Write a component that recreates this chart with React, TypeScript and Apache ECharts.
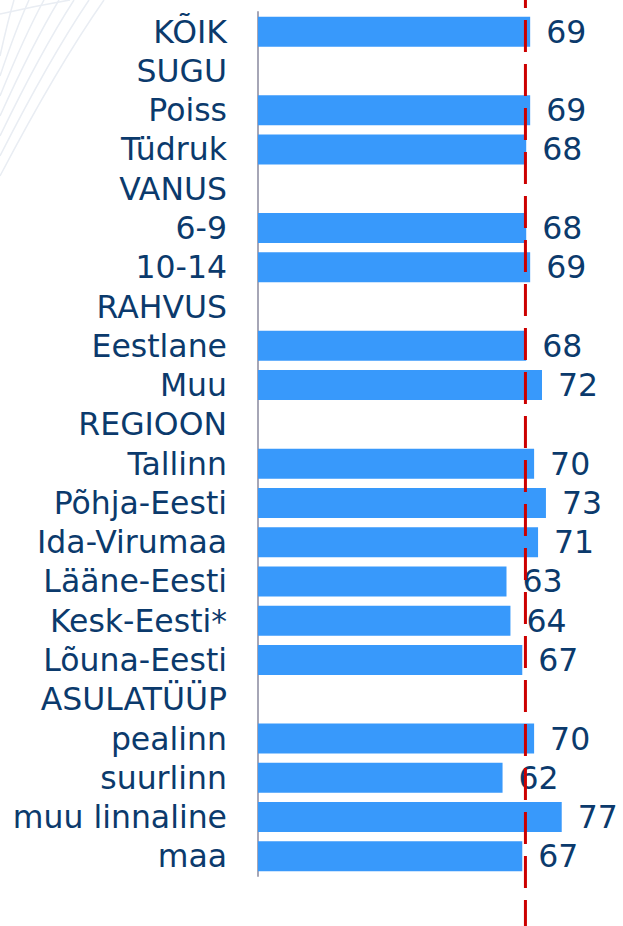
import React, { useEffect, useRef } from "react";
import * as echarts from "echarts";

const categories = [
  "KÕIK", "SUGU", "Poiss", "Tüdruk", "VANUS", "6-9", "10-14", "RAHVUS",
  "Eestlane", "Muu", "REGIOON", "Tallinn", "Põhja-Eesti", "Ida-Virumaa",
  "Lääne-Eesti", "Kesk-Eesti*", "Lõuna-Eesti", "ASULATÜÜP", "pealinn",
  "suurlinn", "muu linnaline", "maa",
];
const values: (number | null)[] = [
  69, null, 69, 68, null, 68, 69, null, 68, 72, null, 70, 73, 71, 63, 64, 67,
  null, 70, 62, 77, 67,
];
const referenceValue = 67.8;

const TEXT = "#0b3a6c";
const FONT = "DejaVu Sans, Verdana, sans-serif";

export default function App() {
  const ref = useRef<HTMLDivElement>(null);
  useEffect(() => {
    document.body.style.margin = "0";
    const chart = echarts.init(ref.current!, null, { renderer: "svg" });
    const deco: any[] = [];
    for (let i = 0; i < 7; i++) {
      const x0 = 104 - i * 15;
      const y1 = 176 - i * 20;
      deco.push({
        type: "bezierCurve",
        silent: true,
        z: -10,
        shape: {
          x1: x0, y1: 0,
          x2: 0, y2: y1,
          cpx1: x0 * 0.55, cpy1: y1 * 0.38,
        },
        style: { stroke: "#e9edf3", lineWidth: 1.5, fill: null },
      });
    }
    deco.push({
      type: "bezierCurve",
      silent: true,
      z: -10,
      shape: { x1: 0, y1: 14, x2: 70, y2: 0, cpx1: 35, cpy1: 6 },
      style: { stroke: "#e9edf3", lineWidth: 1.5, fill: null },
    });
    chart.setOption({
      animation: false,
      backgroundColor: "#ffffff",
      graphic: deco,
      grid: [
        { left: 258, top: 12, width: 355, height: 864 },
        { left: 258, top: 0, width: 355, height: 926 },
      ],
      xAxis: [
        { type: "value", gridIndex: 0, min: 0, max: 90, show: false },
        { type: "value", gridIndex: 1, min: 0, max: 90, show: false },
      ],
      yAxis: [
        {
          type: "category",
          gridIndex: 0,
          data: categories,
          inverse: true,
          axisLine: { show: true, lineStyle: { color: "#a6a6b6", width: 2 } },
          axisTick: { show: false },
          splitLine: { show: false },
          axisLabel: {
            margin: 31,
            color: TEXT,
            fontSize: 31.5,
            fontFamily: FONT,
            interval: 0,
          },
        },
        { type: "value", gridIndex: 1, min: 0, max: 1, show: false },
      ],
      series: [
        {
          type: "bar",
          xAxisIndex: 0,
          yAxisIndex: 0,
          data: values,
          barWidth: 30,
          itemStyle: { color: "#3899fb" },
          label: {
            show: true,
            position: "right",
            distance: 16,
            color: TEXT,
            fontSize: 31.5,
            fontFamily: FONT,
          },
        },
        {
          type: "line",
          xAxisIndex: 1,
          yAxisIndex: 1,
          data: [
            [referenceValue, 1],
            [referenceValue, 0],
          ],
          symbol: "none",
          silent: true,
          z: 5,
          lineStyle: {
            color: "#cc0000",
            width: 3,
            type: [32, 12],
            dashOffset: 24,
          },
        },
      ],
    });
    return () => chart.dispose();
  }, []);
  return <div ref={ref} style={{ width: 623, height: 926 }} />;
}
